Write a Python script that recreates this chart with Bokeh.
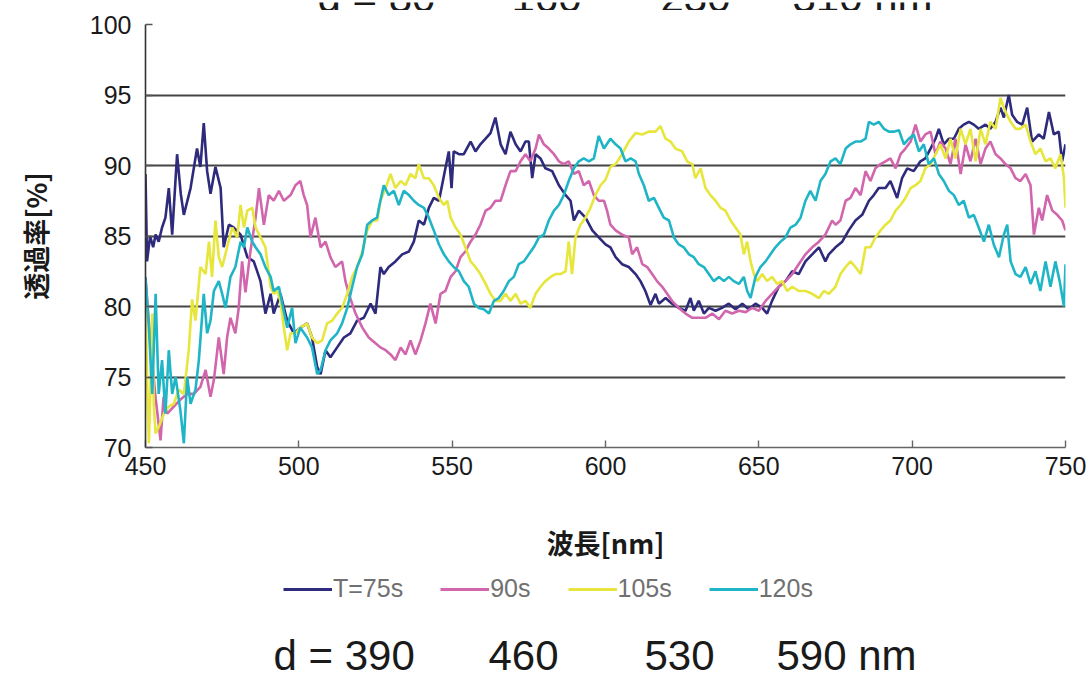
from bokeh.plotting import figure
from bokeh.layouts import column
from bokeh.models import Range1d, FixedTicker, Label, Legend, LegendItem
from bokeh.embed import file_html
from bokeh.resources import INLINE

# ---------------- data ----------------
series_names = ["T=75s", "90s", "105s", "120s"]
series_colors = ["#2e2a7c", "#d166ad", "#e6e63c", "#1fb5c6"]
x_ticks = [450, 500, 550, 600, 650, 700, 750]
y_ticks = [70, 75, 80, 85, 90, 95, 100]
grid_levels = [75, 80, 85, 90, 95]

x_75 = [450.0, 450.5, 451.5, 452.5, 453.3, 454.3, 455.4, 456.5, 457.6, 458.7, 460.3, 461.5, 462.5, 464.7,
        466.8, 467.9, 469.0, 470.1, 471.2, 472.8, 474.5, 475.5, 477.2, 478.8, 481.0, 483.2, 485.3, 487.5,
        489.1, 490.8, 491.8, 494.0, 496.2, 498.4, 500.5, 502.7, 504.3, 506.0, 507.1, 508.7, 510.3, 512.5,
        514.7, 516.8, 519.0, 521.2, 523.4, 525.0, 526.6, 527.7, 529.3, 531.5, 533.7, 535.9, 537.5, 539.1,
        540.8, 542.4, 544.0, 545.7, 546.7, 547.8, 548.9, 549.8, 550.5, 552.2, 553.8, 556.0, 557.6, 559.2,
        560.9, 562.5, 564.1, 565.8, 567.4, 569.0, 570.7, 572.3, 573.9, 575.0, 576.1, 577.2, 578.8, 580.4,
        582.6, 584.8, 587.0, 588.6, 589.7, 591.3, 593.5, 595.7, 597.8, 600.0, 601.6, 603.3, 605.4, 607.6,
        609.8, 611.4, 613.0, 614.7, 616.3, 617.4, 619.6, 621.7, 623.9, 626.1, 627.7, 628.8, 630.4, 632.1,
        633.7, 635.9, 638.0, 640.2, 642.4, 644.6, 646.7, 648.9, 651.1, 652.7, 654.3, 656.5, 658.7, 660.9,
        663.0, 665.2, 667.4, 669.6, 671.7, 672.8, 675.0, 677.2, 679.3, 681.5, 683.7, 685.9, 687.5, 689.1,
        691.3, 692.9, 695.1, 696.7, 698.4, 700.5, 702.7, 704.3, 706.0, 707.6, 708.7, 710.3, 712.0, 713.6,
        715.2, 716.8, 718.5, 720.1, 721.7, 723.9, 725.5, 727.2, 728.8, 729.9, 731.5, 732.6, 734.2, 735.9,
        737.5, 739.1, 741.3, 742.9, 744.6, 746.2, 747.8, 748.9, 750.0]
y_75 = [89.4, 83.2, 85.0, 84.2, 85.1, 84.6, 85.6, 86.3, 88.4, 85.1, 90.8, 88.0, 86.5, 88.4,
        91.2, 89.9, 93.0, 89.6, 88.0, 89.9, 88.4, 84.2, 85.8, 85.6, 85.1, 83.5, 83.2, 81.8,
        79.5, 80.9, 79.5, 80.9, 79.0, 78.1, 78.5, 78.8, 77.8, 75.7, 75.2, 76.9, 76.4, 77.1,
        77.8, 78.1, 79.0, 79.2, 80.2, 79.5, 82.8, 82.3, 82.8, 83.2, 83.7, 83.9, 84.6, 86.1,
        85.8, 87.0, 87.7, 87.5, 88.6, 89.8, 91.0, 88.4, 91.0, 90.8, 90.8, 91.7, 91.0, 91.5,
        91.9, 92.3, 93.4, 91.5, 90.8, 92.4, 91.5, 91.0, 91.7, 91.7, 89.1, 90.8, 90.5, 89.8,
        89.6, 88.6, 87.9, 87.5, 86.1, 86.8, 86.3, 85.4, 84.9, 84.4, 84.2, 83.5, 83.0, 82.8,
        82.3, 81.8, 81.1, 80.1, 80.9, 80.2, 80.6, 80.2, 79.9, 79.7, 80.6, 79.7, 80.4, 79.5,
        79.9, 79.7, 79.9, 80.2, 79.8, 80.2, 79.8, 80.2, 79.9, 79.5, 80.4, 81.4, 81.8, 82.5,
        82.3, 83.2, 83.7, 84.2, 83.2, 83.7, 84.2, 84.6, 85.4, 86.1, 86.5, 87.5, 87.9, 88.4,
        88.4, 88.9, 87.7, 89.1, 89.8, 89.6, 90.3, 90.5, 91.2, 91.9, 92.6, 91.5, 91.9, 91.9,
        92.6, 92.9, 93.1, 92.9, 92.6, 92.9, 92.6, 93.1, 94.1, 93.4, 95.0, 93.6, 93.1, 92.9,
        94.1, 91.7, 92.2, 91.9, 93.8, 92.2, 92.4, 90.3, 91.5]

x_90 = [450.0, 451.6, 453.3, 454.9, 455.9, 457.1, 459.2, 461.4, 463.6, 465.8, 467.9, 469.6, 471.2, 472.3,
        473.9, 475.5, 476.6, 477.7, 479.3, 480.4, 481.5, 482.6, 484.2, 485.9, 487.0, 488.6, 490.2, 491.8,
        493.5, 495.1, 497.3, 498.9, 500.5, 501.6, 502.7, 503.8, 505.4, 507.1, 508.7, 510.3, 511.9, 514.1,
        515.2, 516.3, 518.5, 520.7, 522.8, 525.0, 526.6, 528.3, 529.9, 531.5, 533.2, 534.8, 536.4, 538.0,
        539.7, 541.3, 542.9, 544.6, 546.2, 547.8, 549.5, 551.1, 552.7, 554.3, 556.0, 557.6, 559.2, 560.9,
        562.5, 564.1, 565.8, 567.4, 569.0, 570.7, 572.3, 573.9, 575.5, 577.2, 578.3, 579.9, 581.5, 583.2,
        584.8, 586.4, 588.0, 589.7, 591.3, 592.9, 594.6, 596.2, 597.8, 599.5, 600.5, 601.6, 603.3, 605.4,
        607.6, 608.7, 610.3, 612.0, 613.6, 615.2, 616.8, 618.5, 620.1, 621.7, 623.9, 626.1, 628.3, 630.4,
        632.6, 634.8, 637.0, 639.1, 641.3, 643.5, 645.7, 647.8, 650.0, 652.2, 654.3, 656.5, 658.7, 660.9,
        663.0, 665.2, 667.4, 669.6, 671.7, 673.9, 675.0, 676.6, 678.3, 679.9, 681.5, 683.2, 684.8, 686.4,
        688.0, 689.7, 691.3, 692.9, 694.6, 696.2, 697.8, 699.5, 701.1, 702.7, 704.3, 706.0, 707.6, 709.2,
        710.9, 712.5, 714.1, 715.8, 717.4, 719.0, 720.7, 722.3, 723.9, 725.5, 727.2, 728.8, 730.4, 732.1,
        733.7, 735.3, 737.0, 738.6, 739.7, 741.3, 742.4, 744.0, 745.7, 747.3, 748.9, 750.0]
y_90 = [82.0, 77.5, 73.5, 70.5, 73.6, 72.4, 72.9, 73.4, 73.8, 73.8, 74.3, 75.5, 73.6, 74.8,
        77.8, 75.2, 77.8, 79.2, 78.1, 79.9, 83.2, 81.0, 83.9, 86.3, 88.4, 85.8, 87.9, 87.5,
        88.2, 87.5, 87.9, 88.6, 88.9, 87.9, 87.2, 84.9, 86.3, 84.2, 84.6, 83.5, 82.8, 83.2,
        81.8, 80.9, 79.5, 78.5, 77.8, 77.4, 77.1, 76.9, 76.6, 76.2, 77.1, 76.6, 77.6, 76.6,
        77.6, 78.8, 80.2, 78.8, 80.9, 81.1, 82.1, 82.5, 83.5, 83.9, 84.6, 85.1, 85.8, 86.8,
        87.0, 87.5, 87.5, 88.6, 89.6, 89.6, 90.3, 90.8, 90.3, 91.2, 92.2, 91.5, 91.2, 90.8,
        90.3, 90.1, 90.3, 89.4, 89.6, 88.6, 88.9, 87.9, 87.5, 87.5, 86.8, 85.8, 85.4, 85.1,
        84.9, 83.7, 84.2, 83.0, 82.8, 82.3, 81.8, 81.4, 80.9, 80.4, 79.9, 79.5, 79.2, 79.2,
        79.2, 79.5, 79.1, 79.7, 79.5, 79.7, 79.6, 79.9, 79.7, 80.4, 80.9, 81.4, 81.8, 82.3,
        83.0, 83.7, 84.2, 84.6, 85.1, 86.1, 85.8, 86.1, 87.5, 87.7, 88.4, 87.9, 89.6, 88.9,
        89.8, 90.1, 90.3, 90.5, 89.8, 90.8, 91.2, 91.7, 92.9, 91.7, 92.2, 92.4, 90.8, 91.7,
        91.2, 90.1, 91.9, 89.4, 91.5, 90.3, 91.9, 90.1, 91.2, 91.7, 90.8, 90.5, 90.1, 89.8,
        89.1, 88.9, 89.4, 88.6, 85.1, 87.0, 86.1, 87.9, 86.8, 86.5, 86.1, 85.4]

x_105 = [450.0, 450.5, 451.1, 451.6, 452.2, 452.7, 453.3, 454.4, 456.0, 457.6, 459.2, 460.9, 462.5, 464.1,
         465.2, 466.3, 467.9, 469.6, 470.7, 471.7, 472.8, 473.9, 475.0, 476.6, 478.3, 479.9, 481.0, 482.1,
         483.2, 484.8, 485.9, 487.5, 489.1, 490.8, 491.8, 492.9, 494.0, 495.1, 496.2, 497.3, 498.9, 500.5,
         502.7, 504.3, 506.0, 507.6, 509.2, 510.9, 512.5, 514.1, 515.8, 517.4, 519.0, 520.7, 522.3, 524.0,
         525.6, 526.6, 528.3, 529.9, 531.5, 533.2, 534.8, 536.4, 538.0, 539.1, 540.8, 542.4, 544.0, 545.7,
         547.3, 548.4, 549.5, 551.1, 552.7, 554.3, 556.0, 557.6, 559.2, 560.9, 562.5, 564.1, 565.8, 567.4,
         569.0, 570.7, 572.3, 573.9, 575.5, 577.2, 578.8, 580.4, 582.1, 583.7, 585.3, 587.0, 588.0, 589.1,
         590.2, 591.8, 593.5, 595.1, 596.7, 598.4, 600.0, 601.6, 603.3, 605.4, 607.6, 609.8, 612.0, 614.1,
         616.3, 617.9, 619.6, 621.2, 622.8, 625.0, 626.6, 628.3, 629.3, 631.0, 632.6, 634.2, 635.9, 637.5,
         639.1, 640.8, 642.4, 644.0, 645.1, 646.2, 647.3, 648.4, 649.5, 651.1, 652.7, 654.3, 656.0, 657.6,
         659.2, 660.9, 663.0, 665.2, 667.4, 669.6, 671.2, 672.8, 675.0, 676.6, 678.3, 679.9, 681.5, 683.2,
         684.8, 686.4, 688.0, 689.7, 691.3, 692.9, 694.6, 696.2, 697.8, 699.5, 701.1, 702.7, 704.3, 706.0,
         707.6, 709.2, 710.9, 712.5, 714.1, 715.8, 717.4, 719.0, 720.7, 722.3, 723.9, 725.5, 727.2, 728.8,
         730.4, 732.1, 733.7, 735.3, 737.0, 738.6, 740.2, 741.8, 743.5, 745.1, 746.7, 748.4, 749.5, 750.0]
y_105 = [80.5, 75.0, 70.3, 74.0, 79.5, 73.0, 71.0, 71.5, 72.4, 72.9, 73.1, 74.1, 73.8, 76.9,
         80.5, 79.0, 82.8, 82.3, 84.6, 82.1, 86.1, 83.5, 82.8, 84.2, 85.6, 84.9, 87.2, 85.6,
         86.8, 87.0, 85.6, 84.9, 84.2, 81.4, 80.9, 81.1, 80.4, 78.5, 76.9, 78.1, 78.1, 78.5,
         78.8, 77.8, 77.4, 77.6, 78.8, 79.0, 79.5, 79.9, 80.9, 82.1, 82.8, 83.9, 85.4, 86.1,
         86.1, 87.5, 88.4, 89.4, 88.4, 88.9, 88.6, 89.4, 89.1, 90.1, 89.1, 89.1, 88.6, 87.7,
         87.2, 87.5, 86.3, 85.6, 85.1, 84.2, 83.2, 82.8, 82.3, 81.6, 80.9, 80.4, 80.4, 80.9,
         80.4, 80.9, 80.2, 80.4, 79.9, 80.9, 81.4, 81.8, 82.1, 82.3, 82.3, 82.5, 84.6, 82.3,
         84.9, 85.8, 86.3, 87.0, 87.9, 88.6, 89.0, 89.9, 90.1, 90.8, 91.7, 92.3, 92.2, 92.4,
         92.4, 92.8, 91.9, 91.7, 91.2, 91.0, 90.3, 90.1, 89.1, 89.8, 88.4, 87.9, 87.5, 87.0,
         86.8, 86.1, 85.6, 85.1, 83.7, 84.6, 83.2, 82.3, 81.8, 82.3, 81.8, 82.1, 81.6, 81.8,
         81.1, 81.4, 81.1, 81.1, 80.9, 80.6, 81.1, 80.9, 81.4, 82.3, 82.8, 83.2, 82.8, 82.3,
         84.2, 84.2, 84.9, 85.4, 85.8, 86.1, 86.8, 87.2, 87.7, 88.4, 88.6, 88.9, 89.8, 90.1,
         90.8, 91.5, 90.5, 91.9, 90.5, 92.6, 91.5, 92.6, 90.3, 92.6, 91.5, 93.1, 92.6, 94.8,
         93.8, 93.1, 92.6, 92.6, 92.9, 91.7, 90.8, 91.2, 90.3, 90.5, 89.8, 90.8, 89.1, 87.0]

x_120 = [450.0, 451.1, 452.2, 453.3, 454.3, 455.4, 456.5, 457.6, 458.7, 459.8, 461.4, 462.5, 463.6, 464.7,
         466.3, 467.4, 469.0, 470.1, 471.2, 472.3, 473.9, 475.0, 476.1, 477.7, 479.3, 481.0, 482.1, 483.2,
         484.8, 485.9, 487.5, 489.1, 490.8, 491.8, 493.5, 494.6, 496.2, 497.8, 498.9, 500.5, 502.7, 504.3,
         506.0, 507.1, 508.7, 510.3, 512.5, 514.1, 515.8, 517.4, 519.0, 520.7, 522.3, 523.9, 525.5, 526.1,
         527.7, 529.3, 531.0, 532.6, 534.2, 535.9, 537.5, 539.1, 540.8, 542.4, 544.0, 545.7, 547.3, 548.9,
         550.5, 552.2, 553.8, 555.4, 557.1, 558.7, 560.3, 562.0, 563.6, 565.2, 566.8, 568.5, 570.1, 571.7,
         573.4, 575.0, 576.6, 578.3, 579.9, 581.5, 583.2, 584.8, 586.4, 588.0, 589.7, 591.3, 592.9, 594.6,
         596.2, 597.8, 599.5, 601.6, 603.3, 604.9, 606.5, 608.2, 609.8, 610.9, 612.5, 614.1, 615.8, 617.4,
         619.0, 620.7, 622.3, 623.9, 625.5, 627.2, 628.8, 630.4, 632.1, 633.7, 635.3, 637.0, 638.6, 640.2,
         641.8, 643.5, 645.1, 646.2, 647.3, 648.9, 650.5, 652.2, 653.8, 655.4, 657.1, 658.7, 660.3, 662.0,
         663.6, 665.2, 666.8, 668.5, 670.1, 671.7, 673.4, 675.0, 676.6, 678.3, 679.9, 681.5, 683.2, 684.8,
         685.9, 687.5, 689.1, 690.8, 692.4, 694.0, 695.7, 697.3, 698.9, 700.5, 702.2, 703.8, 705.4, 707.1,
         708.7, 710.3, 712.0, 713.6, 715.2, 716.8, 718.5, 720.1, 721.7, 723.4, 725.0, 726.6, 728.3, 729.9,
         731.0, 732.1, 733.7, 735.3, 737.0, 738.6, 740.2, 741.8, 743.5, 745.1, 746.7, 748.1, 749.5, 750.0]
y_120 = [82.1, 78.5, 73.8, 80.9, 73.8, 76.2, 72.4, 76.9, 73.8, 75.0, 72.6, 70.3, 75.0, 73.1,
         74.1, 76.2, 80.9, 78.1, 79.0, 81.1, 81.8, 80.9, 79.9, 82.1, 82.8, 84.6, 84.2, 85.6,
         84.6, 84.2, 83.7, 82.8, 82.1, 81.1, 81.4, 80.2, 78.5, 79.9, 77.4, 78.5, 77.8, 77.1,
         75.2, 75.5, 76.9, 77.6, 78.1, 78.8, 79.9, 81.4, 82.8, 83.7, 85.8, 86.1, 86.3, 87.0,
         88.6, 87.9, 88.2, 87.2, 88.2, 87.9, 87.5, 87.2, 87.0, 86.3, 85.4, 84.4, 83.7, 83.2,
         82.8, 82.5, 81.8, 81.4, 80.2, 79.9, 79.8, 79.5, 80.4, 80.6, 81.1, 81.8, 82.1, 83.0,
         83.2, 83.7, 84.2, 84.9, 85.1, 86.1, 86.8, 87.2, 87.9, 88.9, 89.8, 90.3, 90.5, 90.3,
         90.5, 92.1, 91.2, 91.9, 91.5, 91.2, 90.3, 90.5, 90.3, 89.4, 88.6, 87.5, 87.7, 87.0,
         86.3, 86.1, 84.9, 84.4, 84.2, 83.7, 83.5, 83.0, 82.8, 82.3, 81.8, 82.1, 81.8, 82.1,
         81.8, 81.6, 82.1, 81.1, 80.6, 82.1, 82.8, 83.2, 83.7, 84.2, 84.6, 84.9, 85.6, 85.8,
         86.3, 87.5, 88.2, 87.5, 88.9, 89.4, 90.3, 90.5, 90.1, 91.2, 91.5, 91.7, 91.7, 91.9,
         93.1, 92.9, 93.1, 92.6, 92.4, 92.4, 92.5, 91.5, 91.9, 92.2, 91.0, 91.5, 90.1, 90.5,
         89.4, 88.9, 88.2, 87.9, 87.2, 87.5, 86.3, 86.5, 85.6, 84.6, 85.8, 84.4, 83.5, 85.1,
         85.8, 83.2, 82.3, 82.1, 82.8, 81.6, 82.5, 81.1, 83.2, 81.4, 83.2, 81.8, 80.0, 83.0]

top_texts = ["d = 80", "160", "230", "310 nm"]
bottom_texts = ["d = 390", "460", "530", "590 nm"]

# ---------------- layout constants ----------------
W = 1091
FRAME_LEFT = 145          # frames of all three stacked figures are aligned here
TOP_H = 10
MAIN_H = 555
BOT_H = 108
SANS = "Liberation Sans"

# ---------------- top strip (annotation line, cut off at the page top) ----------------
top = figure(width=W, height=TOP_H, output_backend="svg", toolbar_location=None,
             min_border=0, x_axis_location=None, y_axis_location=None,
             x_range=Range1d(0, 1), y_range=Range1d(0, 1))
top.outline_line_color = None
top.grid.visible = False
for t, x in zip(top_texts, [317, 511, 660, 792]):
    top.add_layout(Label(x=x - FRAME_LEFT, y=TOP_H + 5, x_units="screen", y_units="screen", text=t,
                         text_font=SANS, text_font_size="42px", text_color="#1a1a1a",
                         text_baseline="middle"))

# ---------------- main chart ----------------
p = figure(width=W, height=MAIN_H, output_backend="svg", toolbar_location=None,
           x_range=Range1d(450, 750), y_range=Range1d(70, 100),
           min_border_left=FRAME_LEFT, min_border_right=26, min_border_top=14,
           min_border_bottom=MAIN_H - 14 - 423,
           background_fill_color="white", border_fill_color="white")
p.outline_line_color = None

p.xaxis.ticker = FixedTicker(ticks=x_ticks)
p.yaxis.ticker = FixedTicker(ticks=y_ticks)
p.xgrid.visible = False
p.ygrid.ticker = FixedTicker(ticks=grid_levels)
p.ygrid.grid_line_color = "#454545"
p.ygrid.grid_line_width = 1.8

for ax in (p.xaxis[0], p.yaxis[0]):
    ax.major_label_text_font = SANS
    ax.major_label_text_font_size = "25px"
    ax.major_label_text_color = "#1a1a1a"
    ax.minor_tick_line_color = None
    ax.major_tick_out = 0
    ax.major_tick_in = 7
    ax.axis_line_width = 1.6
    ax.major_tick_line_width = 1.4

p.xaxis.axis_line_color = "#666666"
p.xaxis.major_tick_line_color = "#666666"
p.yaxis.axis_line_color = "#333333"
p.yaxis.major_tick_line_color = "#555555"
p.xaxis.major_label_standoff = 9
p.yaxis.major_label_standoff = 14

p.xaxis.axis_label = "波長[nm]"
p.yaxis.axis_label = "透過率[%]"
for ax in (p.xaxis[0], p.yaxis[0]):
    ax.axis_label_text_font = "Noto Sans CJK JP"
    ax.axis_label_text_font_size = "27px"
    ax.axis_label_text_font_style = "bold"
    ax.axis_label_text_color = "#1a1a1a"
p.xaxis.axis_label_standoff = 45
p.yaxis.axis_label_standoff = 32

xs = [x_75, x_90, x_105, x_120]
ys = [y_75, y_90, y_105, y_120]
for xv, yv, c in zip(xs, ys, series_colors):
    p.line(xv, yv, line_color=c, line_width=2.6)

# ---------------- bottom strip: legend + annotation ----------------
bot = figure(width=W, height=BOT_H, output_backend="svg", toolbar_location=None,
             min_border=0, x_axis_location=None, y_axis_location=None,
             x_range=Range1d(450, 750), y_range=Range1d(70, 100))
bot.outline_line_color = None
bot.grid.visible = False
# proxies for the legend keys only (they lie outside this strip's range, so nothing is drawn)
proxy_x = [0, 1]
proxy_y = [0, 0]
legend_renderers = [bot.line(proxy_x, proxy_y, line_color=c, line_width=3) for c in series_colors]
legend = Legend(items=[LegendItem(label=n, renderers=[r]) for n, r in zip(series_names, legend_renderers)],
                orientation="horizontal", location=(283 - FRAME_LEFT, BOT_H - 38))
legend.background_fill_alpha = 0
legend.border_line_color = None
legend.padding = 0
legend.margin = 0
legend.spacing = 37
legend.glyph_width = 49
legend.glyph_height = 22
legend.label_standoff = 1
legend.label_text_font = SANS
legend.label_text_font_size = "25px"
legend.label_text_color = "#707070"
bot.add_layout(legend, "center")

for t, x in zip(bottom_texts, [273, 488, 644, 776]):
    bot.add_layout(Label(x=x - FRAME_LEFT, y=18, x_units="screen", y_units="screen", text=t,
                         text_font=SANS, text_font_size="42px", text_color="#1a1a1a",
                         text_baseline="middle"))

layout = column(top, p, bot, spacing=0)
open("out.html", "w").write(file_html(layout, INLINE))
